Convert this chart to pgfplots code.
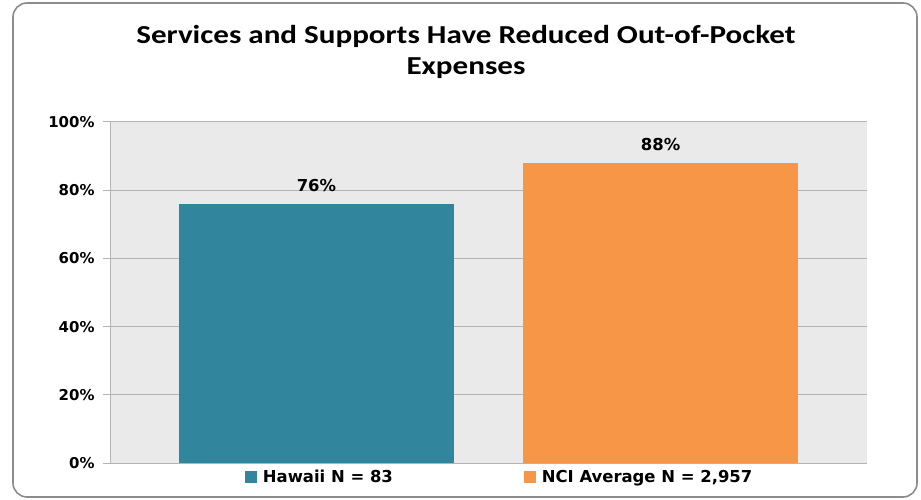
\documentclass[border=0pt]{standalone}
\usepackage{pgfplots}
\pgfplotsset{compat=1.18}
\usepackage{fontspec}
\setmainfont{DejaVu Sans}
\newfontfamily\titlefont[FakeStretch=1.2]{Carlito}
\definecolor{hawaiiC}{HTML}{31859C}
\definecolor{nciC}{HTML}{F79646}
\definecolor{bgC}{HTML}{EAEAEA}
\definecolor{gridC}{HTML}{B4B4B4}
\definecolor{frameC}{HTML}{8C8C8C}

\begin{document}
\begin{tikzpicture}
\path[use as bounding box] (0bp,0bp) rectangle (921bp,500bp);
\draw[frameC, line width=1.6bp, rounded corners=14bp] (13bp,3bp) rectangle (917bp,497bp);
\node[align=center, font=\titlefont\bfseries\fontsize{26}{31}\selectfont] at (466bp,448bp)
  {Services and Supports Have Reduced Out-of-Pocket\\Expenses};
\begin{axis}[
  at={(110bp,37bp)}, anchor=south west,
  scale only axis, width=757bp, height=341bp,
  xmin=0, xmax=11, ymin=0, ymax=100,
  axis background/.style={fill=bgC},
  axis x line*=bottom, axis y line*=left,
  axis line style={gridC, line width=1bp, -},
  /pgf/number format/assume math mode=true,
  xtick=\empty,
  ytick={0,20,...,100},
  yticklabel={\pgfmathprintnumber{\tick}\%},
  yticklabel style={font=\bfseries\fontsize{15}{18}\selectfont, xshift=-5bp},
  y tick style={gridC, line width=1bp},
  tick align=outside, major tick length=7bp,
  ymajorgrids, grid style={gridC, line width=1bp},
  legend columns=2,
  legend style={at={(0.174,-0.041)}, anchor=west, draw=none, fill=none,
    font=\bfseries\fontsize{16.5}{19}\selectfont,
    /tikz/every odd column/.append style={column sep=4bp},
    /tikz/every even column/.append style={column sep=129bp}},
  legend image code/.code={\fill[#1] (0bp,-6bp) rectangle (12bp,6bp);},
  nodes near coords={\pgfmathprintnumber{\pgfplotspointmeta}\%},
  nodes near coords style={font=\bfseries\fontsize{16.5}{19}\selectfont, black, yshift=9bp},
]
\addplot[ybar, bar width=4, fill=hawaiiC, draw=none] coordinates {(3,76)};
\addlegendentry{Hawaii N = 83}
\addplot[ybar, bar width=4, fill=nciC, draw=none] coordinates {(8,88)};
\addlegendentry{NCI Average N = 2,957}
\end{axis}
\end{tikzpicture}
\end{document}
